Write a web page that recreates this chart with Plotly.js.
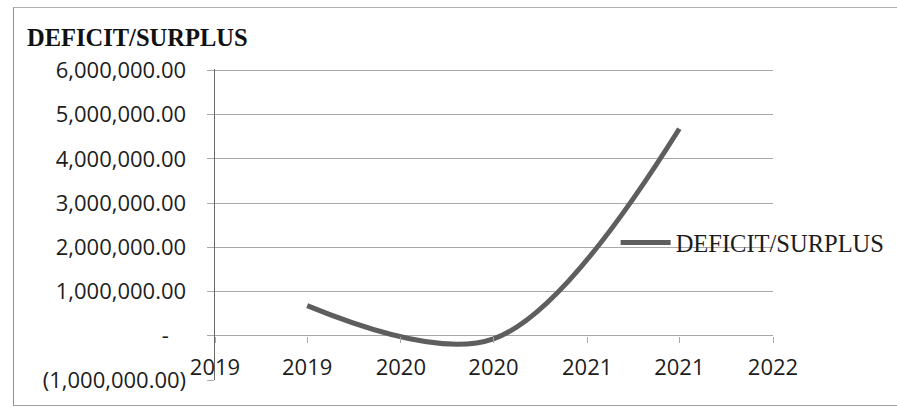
<!DOCTYPE html>
<html>
<head>
<meta charset="utf-8">
<script src="https://cdn.plot.ly/plotly-3.0.1.min.js"></script>
<style>
  html, body { margin: 0; padding: 0; background: #fff; }
  #wrap { position: relative; width: 897px; height: 410px; overflow: hidden; }
  #frame { position: absolute; left: 13px; top: 7px; width: 900px; height: 397px;
           border-top: 1px solid #b0b0b0; border-left: 1px solid #909090; border-bottom: 1px solid #a0a0a0; }
  #chart { position: absolute; left: 0; top: 0; width: 897px; height: 410px; }
</style>
</head>
<body>
<div id="wrap">
  <div id="chart"></div>
  <div id="frame"></div>
</div>
<script>
// ---- data ----
var periods = ['2019-07-01', '2020-07-01', '2021-07-01'];
var deficitSurplus = [680000, -70000, 4680000];
var seriesName = 'DEFICIT/SURPLUS';

var xTickVals = ['2019-01-01', '2019-07-01', '2020-01-01', '2020-07-01', '2021-01-01', '2021-07-01', '2022-01-01'];
var xTickText = ['2019', '2019', '2020', '2020', '2021', '2021', '2022'];
var xRange = ['2019-01-01', '2022-01-01'];

var yTickVals = [-1000000, 0, 1000000, 2000000, 3000000, 4000000, 5000000, 6000000];
var yTickText = ['(1,000,000.00)', '-\u00a0\u00a0\u00a0', '1,000,000.00', '2,000,000.00', '3,000,000.00',
                 '4,000,000.00', '5,000,000.00', '6,000,000.00'];
var yRange = [-1000000, 6030000];

var gridColor = '#a8a8a8';
var tickFont = { family: 'Open Sans, sans-serif', size: 22, color: '#1c1c1c' };

var trace = {
  x: periods,
  y: deficitSurplus,
  name: seriesName,
  type: 'scatter',
  mode: 'lines',
  xaxis: 'x2',
  yaxis: 'y',
  line: { color: '#5e5e5e', width: 5, shape: 'spline', smoothing: 1 },
  showlegend: true
};

var zeroPos = (0 - yRange[0]) / (yRange[1] - yRange[0]);

var layout = {
  width: 897,
  height: 410,
  margin: { l: 215, r: 124, t: 69, b: 30, autoexpand: false },
  paper_bgcolor: 'rgba(0,0,0,0)',
  plot_bgcolor: 'rgba(0,0,0,0)',
  title: {
    text: 'DEFICIT/SURPLUS',
    font: { family: 'Liberation Serif, serif', size: 24.5, weight: 'bold', color: '#111' },
    x: 27 / 897, xanchor: 'left', xref: 'container',
    y: 1 - 37 / 410, yanchor: 'middle', yref: 'container'
  },
  showlegend: true,
  legend: {
    x: 0.718, xanchor: 'left',
    y: 0.442, yanchor: 'middle',
    bgcolor: 'rgba(0,0,0,0)',
    font: { family: 'Liberation Serif, serif', size: 24.5, color: '#1c1c1c' },
    itemwidth: 50
  },
  xaxis: {
    type: 'date',
    range: xRange,
    showgrid: false,
    zeroline: false,
    showline: true,
    linecolor: gridColor,
    linewidth: 1,
    ticks: '',
    showticklabels: false,
    automargin: false,
    fixedrange: true
  },
  xaxis2: {
    type: 'date',
    overlaying: 'x',
    anchor: 'free',
    position: zeroPos,
    range: xRange,
    tickmode: 'array',
    tickvals: xTickVals,
    ticktext: xTickText,
    ticks: 'outside',
    ticklen: 6,
    tickcolor: gridColor,
    showgrid: false,
    zeroline: false,
    showline: false,
    tickfont: tickFont,
    ticklabelstandoff: 6,
    automargin: false,
    fixedrange: true
  },
  yaxis: {
    range: yRange,
    tickmode: 'array',
    tickvals: yTickVals,
    ticktext: yTickText,
    showgrid: true,
    gridcolor: gridColor,
    gridwidth: 1,
    zeroline: false,
    showline: true,
    linecolor: '#6a6a6a',
    linewidth: 1.5,
    ticks: 'outside',
    ticklen: 7,
    tickcolor: gridColor,
    tickfont: tickFont,
    ticklabelstandoff: 16,
    automargin: false,
    fixedrange: true
  }
};

Plotly.newPlot('chart', [trace], layout, { displayModeBar: false, staticPlot: true });
</script>
</body>
</html>
